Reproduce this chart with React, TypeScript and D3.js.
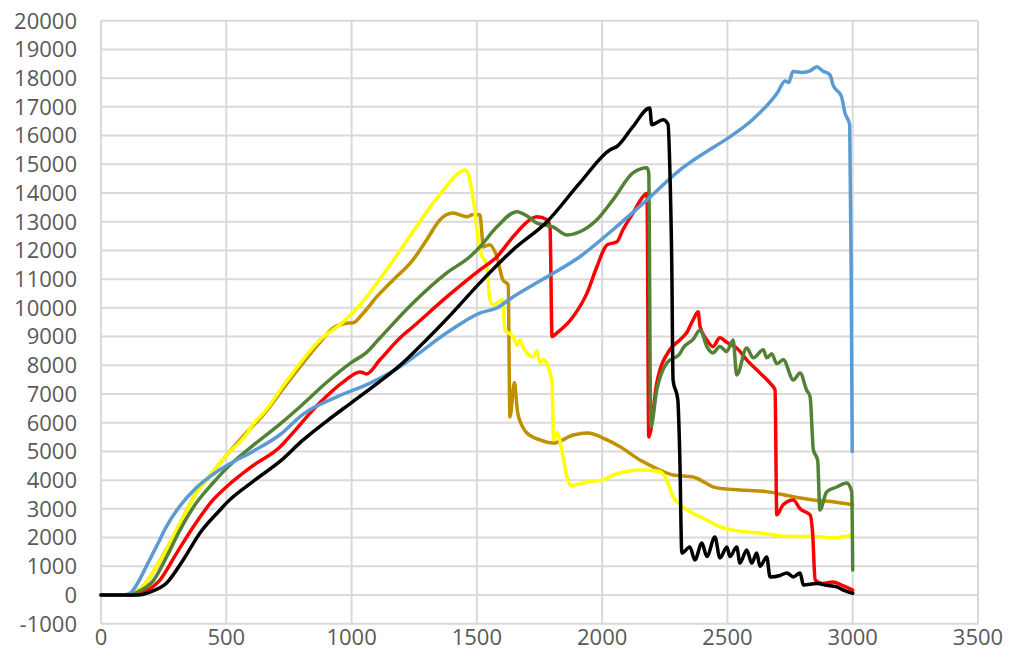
import React, { useEffect, useRef } from 'react';
import * as d3 from 'd3';

type Pt = [number, number];

// x ticks and y ticks
const xTicks = [0, 500, 1000, 1500, 2000, 2500, 3000, 3500];
const yTicks = d3.range(-1000, 20001, 1000);

const yellowSeries: Pt[] = [
  [0, 0], [90, 0], [130, 80], [168, 300], [195, 620], [222, 1000], [250, 1400], [275, 1800],
  [300, 2250], [328, 2700], [355, 3150], [380, 3550], [407, 3850], [434, 4150], [475, 4600],
  [500, 4850], [580, 5600], [607, 5950], [650, 6350], [741, 7450], [874, 8880], [967, 9510],
  [1034, 10100], [1100, 10850], [1166, 11650], [1245, 12650], [1325, 13650], [1380, 14250],
  [1420, 14650], [1452, 14800], [1464, 14700], [1484, 13870], [1512, 12020], [1540, 11430],
  [1552, 10280], [1565, 10100], [1604, 10280], [1612, 9230], [1645, 9000], [1660, 8700],
  [1672, 8880], [1686, 8600], [1700, 8430], [1725, 8290], [1740, 8500], [1752, 8080],
  [1765, 8200], [1784, 7950], [1800, 7380], [1806, 5400], [1820, 5650], [1840, 5000],
  [1860, 4100], [1875, 3800], [1900, 3850], [1950, 3950], [2000, 4000], [2050, 4200],
  [2100, 4300], [2151, 4350], [2231, 4300], [2260, 3950], [2283, 3420], [2323, 3070],
  [2418, 2610], [2470, 2380], [2530, 2250], [2630, 2160], [2750, 2040], [2856, 2040],
  [2920, 1990], [3000, 2090],
];

const goldSeries: Pt[] = [
  [0, 0], [90, 0], [130, 80], [168, 300], [222, 1000], [275, 1800], [328, 2700], [380, 3550],
  [434, 4150], [500, 4850], [580, 5650], [650, 6300], [741, 7350], [874, 8800], [927, 9300],
  [986, 9470], [1006, 9480], [1047, 9820], [1100, 10380], [1166, 10970], [1245, 11670],
  [1300, 12370], [1353, 13070], [1405, 13300], [1460, 13170], [1485, 13250], [1512, 13240],
  [1520, 12600], [1525, 12120], [1550, 12200], [1580, 11780], [1604, 10970], [1625, 10800],
  [1632, 6200], [1650, 7400], [1662, 6400], [1680, 5900], [1700, 5640], [1752, 5400],
  [1805, 5290], [1885, 5570], [1940, 5640], [2020, 5400], [2072, 5160], [2151, 4700],
  [2204, 4460], [2283, 4180], [2363, 4110], [2458, 3730], [2550, 3660], [2657, 3600],
  [2763, 3420], [2843, 3310], [2920, 3250], [3000, 3140],
];

const greenSeries: Pt[] = [
  [0, 0], [100, 0], [150, 120], [209, 500], [262, 1330], [315, 2260], [380, 3200], [447, 3900],
  [500, 4400], [606, 5200], [714, 5950], [800, 6600], [900, 7400], [1000, 8100], [1060, 8450],
  [1113, 8950], [1245, 10170], [1380, 11220], [1472, 11780], [1512, 12120], [1580, 12820],
  [1660, 13350], [1700, 13200], [1740, 12950], [1804, 12820], [1860, 12540], [1911, 12650],
  [1979, 13070], [2043, 13760], [2123, 14700], [2179, 14880], [2186, 14700], [2194, 5850],
  [2218, 7140], [2258, 8080], [2310, 8400], [2323, 8600], [2363, 8900], [2391, 9230],
  [2418, 8650], [2442, 8430], [2470, 8650], [2497, 8480], [2523, 8880], [2537, 7660],
  [2577, 8600], [2603, 8260], [2643, 8540], [2657, 8260], [2677, 8400], [2697, 8050],
  [2723, 8190], [2763, 7490], [2790, 7730], [2816, 7140], [2830, 6900], [2843, 5050],
  [2860, 4700], [2869, 2960], [2896, 3590], [2936, 3760], [2976, 3900], [2996, 3600],
  [3000, 870],
];

const redSeries: Pt[] = [
  [0, 0], [125, 0], [170, 100], [235, 520], [302, 1460], [368, 2370], [447, 3310], [500, 3760],
  [606, 4500], [714, 5150], [741, 5400], [874, 6700], [967, 7420], [1034, 7770], [1060, 7700],
  [1113, 8190], [1193, 8950], [1245, 9340], [1380, 10380], [1512, 11320], [1580, 11780],
  [1644, 12470], [1712, 13070], [1740, 13170], [1780, 13070], [1792, 12820], [1800, 9000],
  [1820, 9130], [1884, 9690], [1940, 10520], [1979, 11430], [2019, 12190], [2059, 12300],
  [2083, 12720], [2123, 13300], [2163, 13870], [2179, 13990], [2186, 5500], [2218, 7380],
  [2270, 8540], [2310, 8880], [2337, 9130], [2363, 9580], [2383, 9860], [2391, 9340],
  [2418, 8880], [2442, 8650], [2470, 8960], [2497, 8800], [2537, 8600], [2577, 8190],
  [2630, 7730], [2670, 7380], [2690, 7140], [2697, 2790], [2722, 3140], [2763, 3310],
  [2790, 3000], [2830, 2790], [2840, 2160], [2850, 520], [2880, 400], [2920, 450],
  [2960, 330], [3000, 170],
];

const blueSeries: Pt[] = [
  [0, 0], [88, 0], [110, 30], [128, 170], [155, 550], [181, 1000], [222, 1700], [262, 2400],
  [315, 3100], [380, 3730], [447, 4200], [500, 4500], [606, 5000], [714, 5580], [807, 6300],
  [941, 6900], [1074, 7380], [1193, 7950], [1250, 8300], [1380, 9130], [1512, 9820],
  [1580, 10000], [1644, 10380], [1780, 11080], [1911, 11780], [2043, 12720], [2179, 13760],
  [2310, 14800], [2400, 15350], [2500, 15900], [2600, 16550], [2700, 17500], [2730, 17900],
  [2745, 17850], [2761, 18230], [2800, 18200], [2830, 18250], [2856, 18400], [2880, 18250],
  [2909, 18120], [2921, 17770], [2955, 17360], [2969, 16790], [2988, 16375], [2994, 11000],
  [2998, 5000],
];

const blackSeries: Pt[] = [
  [0, 0], [148, 0], [200, 120], [262, 420], [328, 1220], [395, 2160], [475, 2960], [500, 3200],
  [606, 3950], [714, 4650], [807, 5400], [900, 6050], [1000, 6700], [1100, 7350], [1200, 8050],
  [1300, 8900], [1400, 9800], [1512, 10870], [1644, 12020], [1780, 13000], [1911, 14350],
  [2031, 15500], [2059, 15620], [2123, 16310], [2190, 16960], [2198, 16380], [2243, 16550],
  [2263, 16400], [2270, 14900], [2278, 11430], [2283, 7490], [2302, 6800], [2310, 4800],
  [2318, 1460], [2350, 1670], [2370, 1220], [2398, 1810], [2418, 1340], [2450, 2020],
  [2470, 1290], [2498, 1670], [2510, 1340], [2537, 1670], [2550, 1110], [2577, 1570],
  [2597, 1110], [2617, 1460], [2630, 1000], [2657, 1320], [2670, 630], [2710, 680],
  [2737, 770], [2763, 630], [2790, 770], [2803, 350], [2856, 400], [2896, 340], [2936, 280],
  [2963, 170], [3000, 60],
];

// draw order: bottom first
const seriesList = [
  { name: 'gold', data: goldSeries, color: '#BF9000' },
  { name: 'yellow', data: yellowSeries, color: '#FFFF00' },
  { name: 'red', data: redSeries, color: '#FF0000' },
  { name: 'green', data: greenSeries, color: '#548235' },
  { name: 'blue', data: blueSeries, color: '#5B9BD5' },
  { name: 'black', data: blackSeries, color: '#000000' },
];

const App = () => {
  const ref = useRef<SVGSVGElement>(null);

  useEffect(() => {
    document.body.style.margin = '0';
    const svg = d3.select(ref.current);
    svg.selectAll('*').remove();

    const x = d3.scaleLinear().domain([0, 3500]).range([101, 978]);
    const y = d3.scaleLinear().domain([-1000, 20000]).range([623.7, 20.7]);

    const grid = svg.append('g');
    grid
      .selectAll('.hgrid')
      .data(yTicks)
      .enter()
      .append('line')
      .attr('x1', x(0))
      .attr('x2', x(3500))
      .attr('y1', (d) => y(d))
      .attr('y2', (d) => y(d))
      .attr('stroke', '#d9d9d9')
      .attr('stroke-width', 2);
    grid
      .selectAll('.vgrid')
      .data(xTicks)
      .enter()
      .append('line')
      .attr('x1', (d) => x(d))
      .attr('x2', (d) => x(d))
      .attr('y1', y(20000))
      .attr('y2', y(-1000))
      .attr('stroke', '#d9d9d9')
      .attr('stroke-width', 2);

    const labelFont = '"Open Sans", sans-serif';

    svg
      .append('g')
      .selectAll('text')
      .data(yTicks)
      .enter()
      .append('text')
      .attr('x', 77)
      .attr('y', (d) => y(d))
      .attr('dy', '0.36em')
      .attr('text-anchor', 'end')
      .attr('font-family', labelFont)
      .attr('font-size', 22)
      .attr('fill', '#595959')
      .text((d) => String(d));

    svg
      .append('g')
      .selectAll('text')
      .data(xTicks)
      .enter()
      .append('text')
      .attr('x', (d) => x(d))
      .attr('y', 645)
      .attr('text-anchor', 'middle')
      .attr('font-family', labelFont)
      .attr('font-size', 22)
      .attr('fill', '#595959')
      .text((d) => String(d));

    const line = d3
      .line<Pt>()
      .x((d) => x(d[0]))
      .y((d) => y(d[1]))
      .curve(d3.curveMonotoneX);

    svg
      .append('g')
      .selectAll('path')
      .data(seriesList)
      .enter()
      .append('path')
      .attr('d', (s) => line(s.data))
      .attr('fill', 'none')
      .attr('stroke', (s) => s.color)
      .attr('stroke-width', 3.5)
      .attr('stroke-linejoin', 'round')
      .attr('stroke-linecap', 'round');
  }, []);

  return (
    <svg
      ref={ref}
      width={1013}
      height={653}
      style={{ position: 'absolute', left: 0, top: 0, background: '#fff' }}
    />
  );
};

export default App;
